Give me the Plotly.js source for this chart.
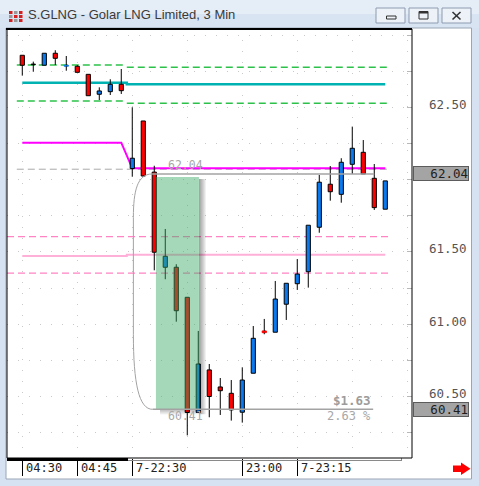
<!DOCTYPE html>
<html>
<head>
<meta charset="utf-8">
<script src="https://cdn.plot.ly/plotly-3.0.1.min.js"></script>
<style>
  html, body { margin: 0; padding: 0; background: #d6e2f1; }
  #chart { width: 479px; height: 486px; }
</style>
</head>
<body>
<div id="chart"></div>
<script>
// ---- 3-minute candles, S.GLNG (index 0 = 04:30 bar) ----
const opens  = [62.862, 62.797, 62.793, 62.876, 62.786, 62.786, 62.730, 62.592, 62.610, 62.661,
                62.078, 62.407, 62.053, 61.394, 61.394, 61.186, 60.388, 60.683, 60.565, 60.521,
                60.390, 60.660, 60.953, 60.944, 61.138, 61.280, 61.363, 61.671, 61.969, 61.899,
                62.107, 62.190, 62.010, 61.796];
const highs  = [62.862, 62.818, 62.876, 62.897, 62.857, 62.793, 62.730, 62.640, 62.696, 62.767,
                62.502, 62.407, 62.097, 61.659, 61.415, 61.186, 60.953, 60.724, 60.627, 60.613,
                60.701, 60.987, 61.036, 61.299, 61.283, 61.451, 61.685, 62.033, 62.095, 62.149,
                62.368, 62.275, 62.109, 61.992];
const lows   = [62.721, 62.748, 62.793, 62.795, 62.755, 62.744, 62.582, 62.552, 62.587, 62.594,
                62.021, 62.021, 61.373, 61.311, 61.017, 60.230, 60.388, 60.355, 60.371, 60.332,
                60.318, 60.660, 60.930, 60.944, 61.029, 61.237, 61.253, 61.633, 61.855, 61.841,
                62.040, 62.040, 61.791, 61.796];
const closes = [62.793, 62.797, 62.876, 62.841, 62.793, 62.744, 62.582, 62.615, 62.661, 62.617,
                62.149, 62.026, 61.498, 61.470, 61.093, 60.388, 60.724, 60.499, 60.539, 60.406,
                60.613, 60.902, 60.941, 61.174, 61.283, 61.347, 61.685, 61.983, 61.917, 62.121,
                62.218, 62.040, 61.807, 61.992];

// time axis labels (bar index -> label)
const timeTickIdx  = [0, 5, 10, 20, 25];
const timeTickText = ['04:30', '04:45', '7-22:30', '23:00', '7-23:15'];

// price axis ticks
const priceTickVals = [60.25, 60.50, 60.75, 61.00, 61.25, 61.50, 61.75, 62.00, 62.25, 62.50, 62.75, 63.00];
const priceTickText = ['', '60.50', '', '61.00', '', '61.50', '', '62.00', '', '62.50', '', ''];

// indicator levels: [previous session, current session]
const sessionBreak = 9.5;
const greenUpper = [62.795, 62.779];
const greenLower = [62.546, 62.530];
const tealLevel  = [62.672, 62.661];
const pinkMid    = [61.472, 61.481];
const pinkUpper  = 61.606;
const pinkLower  = 61.354;
const grayRef    = 62.073;
const magentaLine = [62.257, 62.257, 62.257, 62.257, 62.257, 62.257, 62.257, 62.257, 62.257, 62.257,
                     62.079, 62.079, 62.079, 62.079, 62.079, 62.079, 62.079, 62.079, 62.079, 62.079,
                     62.079, 62.079, 62.079, 62.079, 62.079, 62.079, 62.079, 62.079, 62.079, 62.079,
                     62.079, 62.079, 62.079, 62.079];

// price range measurement
const measHigh = 62.04;
const measLow  = 60.41;
const measStart = 11.8, measEnd = 32.0;
const zoneStart = 12.15, zoneEnd = 16.06;

// ---- geometry ----
const L = 7, T = 29, PW = 405, PH = 429;
const xRange = [-1.39, 35.43];
const yRange = [60.073, 63.044];
const pxX = (xRange[1] - xRange[0]) / PW;
const pxY = (yRange[1] - yRange[0]) / PH;
const X = px => (px - L) / PW;
const Y = py => (T + PH - py) / PH;

const UP = '#0a78ee', DOWN = '#ff0000';
const MONO = 'DejaVu Sans Mono';
const idx = opens.map((_, i) => i);

// candle bodies and wicks
const bodyColor = idx.map(i => closes[i] > opens[i] ? UP : (closes[i] < opens[i] ? DOWN : '#000000'));
const bodyLine = idx.map(i => Math.abs(closes[i] - opens[i]) < 0.017 ? bodyColor[i] : '#000000');
const bodyBase = idx.map(i => Math.min(opens[i], closes[i]));
const bodyHeight = idx.map(i => Math.max(Math.abs(closes[i] - opens[i]), 0.004));
const wickX = [], wickY = [];
idx.forEach(i => {
  const top = Math.max(opens[i], closes[i]), bot = Math.min(opens[i], closes[i]);
  if (highs[i] > top) { wickX.push(i, i, null); wickY.push(top, highs[i], null); }
  if (lows[i] < bot)  { wickX.push(i, i, null); wickY.push(lows[i], bot, null); }
});

const DASH = '7px,4px';
const traces = [
  { x: [-0.5, 33.5], y: [grayRef, grayRef], mode: 'lines',
    line: { color: '#a9a9a9', width: 1, dash: DASH } },
  { x: [-0.5, sessionBreak, null, sessionBreak, 33.5],
    y: [greenUpper[0], greenUpper[0], null, greenUpper[1], greenUpper[1]], mode: 'lines',
    line: { color: '#2cc24a', width: 1.5, dash: DASH } },
  { x: [-0.5, sessionBreak, null, sessionBreak, 33.5],
    y: [greenLower[0], greenLower[0], null, greenLower[1], greenLower[1]], mode: 'lines',
    line: { color: '#2cc24a', width: 1.5, dash: DASH } },
  { x: [xRange[0], 33.5], y: [pinkUpper, pinkUpper], mode: 'lines',
    line: { color: '#ff84c4', width: 1.3, dash: DASH } },
  { x: [xRange[0], 33.5], y: [pinkLower, pinkLower], mode: 'lines',
    line: { color: '#ff84c4', width: 1.3, dash: DASH } },
  { x: [0, sessionBreak, sessionBreak, 33], y: [pinkMid[0], pinkMid[0], pinkMid[1], pinkMid[1]],
    mode: 'lines', line: { color: '#ffb0d8', width: 2 } },
  { x: [0, sessionBreak, sessionBreak, 33], y: [tealLevel[0], tealLevel[0], tealLevel[1], tealLevel[1]],
    mode: 'lines', line: { color: '#00b2b2', width: 2.5 } },
  { x: idx, y: magentaLine, mode: 'lines', line: { color: '#ff00ff', width: 2 } },
  // candles live on an overlaid subplot so they sit above the indicator lines
  { type: 'bar', x: idx, y: bodyHeight, base: bodyBase, width: 0.38, xaxis: 'x2', yaxis: 'y2',
    marker: { color: bodyColor, line: { color: bodyLine, width: 1 } } },
  { x: wickX, y: wickY, mode: 'lines', xaxis: 'x2', yaxis: 'y2',
    line: { color: '#000000', width: 1 } }
];

// ---- shapes ----
function prect(x0, y0, x1, y1, fill, line, lw, layer) {
  return { type: 'rect', xref: 'paper', yref: 'paper', x0: X(x0), x1: X(x1), y0: Y(y1), y1: Y(y0),
           fillcolor: fill, line: { color: line || 'rgba(0,0,0,0)', width: lw || 0 }, layer: layer || 'below' };
}
function pline(x0, y0, x1, y1, color, w, layer) {
  return { type: 'line', xref: 'paper', yref: 'paper', x0: X(x0), x1: X(x1), y0: Y(y0), y1: Y(y1),
           line: { color: color, width: w }, layer: layer || 'below' };
}
function ppath(pts, fill, layer) {
  const d = pts.map((p, k) => (k ? 'L' : 'M') + X(p[0]) + ',' + Y(p[1])).join(' ') + ' Z';
  return { type: 'path', xref: 'paper', yref: 'paper', path: d, fillcolor: fill,
           line: { width: 0, color: fill }, layer: layer || 'below' };
}

const shapes = [];
// window frame, title bar and chart panel
shapes.push(prect(0, 0, 479, 14, '#e5edf7'));
shapes.push(prect(0, 14, 479, 28, '#d9e4f2'));
shapes.push(prect(6, 28, 471.5, 479, '#ffffff', '#9aa6b6', 1));
// app icon
[[9, 11, '#d42020'], [14, 11, '#9a9a9a'], [19, 11, '#d42020'],
 [9, 15, '#9a9a9a'], [14, 15, '#d42020'], [19, 15, '#d42020'],
 [9, 19, '#d42020'], [14, 19, '#9a9a9a'], [19, 19, '#d42020']].forEach(s =>
  shapes.push(prect(s[0], s[1], s[0] + 3.5, s[1] + 3, s[2])));
// caption buttons
[[376, 405], [409, 438], [442, 471]].forEach(b =>
  shapes.push(prect(b[0], 8, b[1], 23, '#edf2f9', '#8d9bb0', 1)));
shapes.push(prect(386.5, 16, 396, 19, 'rgba(0,0,0,0)', '#333333', 1));
shapes.push(prect(419, 11.5, 428, 19, 'rgba(0,0,0,0)', '#333333', 1));
shapes.push(pline(419, 12.5, 428, 12.5, '#333333', 2));
shapes.push(pline(452.5, 12, 460.5, 19.5, '#333333', 1.6));
shapes.push(pline(452.5, 19.5, 460.5, 12, '#333333', 1.6));
// scroll indicator under the plot
shapes.push(prect(7, 458, 128, 461, '#000000', null, 0, 'above'));
shapes.push(pline(128, 460.5, 401.5, 460.5, '#8a8a8a', 1, 'above'));
shapes.push(pline(401.5, 458, 401.5, 461, '#8a8a8a', 1, 'above'));
// red scroll arrow
shapes.push(ppath([[453, 465.5], [461, 465.5], [461, 462.5], [470.5, 468.8], [461, 475],
                   [461, 472], [453, 472]], '#ff0000', 'above'));
// plot border
shapes.push({ type: 'rect', xref: 'paper', yref: 'paper', x0: 0, x1: 1, y0: 0, y1: 1,
              line: { color: '#000000', width: 1 }, layer: 'above' });
shapes.push(pline(6, 29, 412, 29, '#000000', 2, 'above'));

// measurement zone: soft shadow, translucent green box, bracket and range lines
for (let k = 1; k <= 7; k++) {
  shapes.push({ type: 'rect', xref: 'x', yref: 'y', layer: 'above',
                x0: zoneEnd, x1: zoneEnd + (8 - k) * pxX,
                y0: measLow - 5 * pxY, y1: measHigh - 5 * pxY,
                fillcolor: 'rgba(0,0,0,0.06)', line: { width: 0 } });
  shapes.push({ type: 'rect', xref: 'x', yref: 'y', layer: 'above',
                x0: zoneStart + 4 * pxX, x1: zoneEnd,
                y0: measLow - (6 - k * 0.7) * pxY, y1: measLow,
                fillcolor: 'rgba(0,0,0,0.035)', line: { width: 0 } });
}
shapes.push({ type: 'rect', xref: 'x', yref: 'y', layer: 'above',
              x0: zoneStart, x1: zoneEnd, y0: measLow, y1: measHigh - 3 * pxY,
              fillcolor: 'rgba(58,170,100,0.46)', line: { width: 0 } });
const bx = 10.1;
shapes.push({ type: 'path', xref: 'x', yref: 'y', layer: 'above',
              path: `M ${measStart},${measHigh} C ${bx + 0.35},${measHigh} ${bx},${measHigh - 0.12} ${bx},${measHigh - 0.30}` +
                    ` L ${bx},${measLow + 0.52} C ${bx},${measLow + 0.18} ${bx + 0.5},${measLow} ${measStart + 0.05},${measLow}`,
              line: { color: '#a3a3a3', width: 1 } });
shapes.push({ type: 'line', xref: 'x', yref: 'y', layer: 'above', x0: measStart, x1: measEnd,
              y0: measHigh, y1: measHigh, line: { color: '#a3a3a3', width: 1.5 } });
shapes.push({ type: 'line', xref: 'x', yref: 'y', layer: 'above', x0: measStart + 0.05, x1: measEnd - 0.1,
              y0: measLow, y1: measLow, line: { color: '#a3a3a3', width: 1.5 } });

// ---- annotations ----
const annotations = [];
annotations.push({ xref: 'paper', yref: 'paper', x: X(26), y: Y(15), xanchor: 'left', yanchor: 'middle',
                   text: 'S.GLNG - Golar LNG Limited, 3 Min', showarrow: false,
                   font: { family: 'Liberation Sans', size: 13, color: '#3a3a3a' } });
timeTickIdx.forEach((v, k) => annotations.push({
  xref: 'x', yref: 'paper', x: v, y: Y(468.5), xanchor: 'left', yanchor: 'middle', xshift: 2,
  text: timeTickText[k], showarrow: false, font: { family: MONO, size: 12, color: '#222222' } }));

const diff = measHigh - measLow;
const pct = diff / measHigh * 100;
const measFont = { family: MONO, size: 11.5, color: '#a8a8a8' };
annotations.push({ xref: 'x', yref: 'y', x: 13.1, y: measHigh, xanchor: 'left', yanchor: 'middle', yshift: 9,
                   text: measHigh.toFixed(2), showarrow: false, font: measFont });
annotations.push({ xref: 'x', yref: 'y', x: 13.1, y: measLow, xanchor: 'left', yanchor: 'middle', yshift: -7,
                   text: measLow.toFixed(2), showarrow: false, font: measFont });
annotations.push({ xref: 'x', yref: 'y', x: 31.9, y: measLow, xanchor: 'right', yanchor: 'middle', yshift: 8.5,
                   text: '<b>$' + diff.toFixed(2) + '</b>', showarrow: false,
                   font: { family: MONO, size: 12.5, color: '#9c9c9c' } });
annotations.push({ xref: 'x', yref: 'y', x: 31.9, y: measLow, xanchor: 'right', yanchor: 'middle', yshift: -7,
                   text: pct.toFixed(2) + ' %', showarrow: false, font: { family: MONO, size: 12, color: '#a8a8a8' } });
[measHigh, measLow].forEach(v => annotations.push({
  xref: 'paper', yref: 'y', x: 1, y: v, xanchor: 'left', yanchor: 'middle', xshift: 0.5,
  text: v.toFixed(2), showarrow: false, align: 'right', width: 54, height: 13,
  bgcolor: '#a4a4a4', bordercolor: '#5c5c5c', borderwidth: 1, borderpad: 0,
  font: { family: MONO, size: 12.5, color: '#1e1e1e' } }));

const gridStyle = { gridcolor: '#c9c9c9', griddash: '1px,10px', gridwidth: 1 };
const layout = {
  width: 479, height: 486,
  margin: { l: L, r: 479 - L - PW, t: T, b: 486 - T - PH, pad: 0 },
  paper_bgcolor: '#d6e2f1', plot_bgcolor: '#ffffff',
  showlegend: false, bargap: 0,
  xaxis: Object.assign({ range: xRange, tickmode: 'array', tickvals: timeTickIdx, showticklabels: false,
           ticks: 'outside', ticklen: 17, tickcolor: '#000000', tickwidth: 1, showgrid: true,
           zeroline: false, showline: false, fixedrange: true,
           minor: Object.assign({ tick0: 0, dtick: 5, showgrid: true, ticks: '' }, gridStyle) }, gridStyle),
  yaxis: Object.assign({ range: yRange, side: 'right', tickmode: 'array', tickvals: priceTickVals,
           ticktext: priceTickText, ticks: 'inside', ticklen: 5, tickcolor: '#b8b8b8',
           ticklabelstandoff: 16, ticklabelshift: -3, showgrid: true, zeroline: false, showline: false,
           fixedrange: true, tickfont: { family: MONO, size: 12.5, color: '#555555' } }, gridStyle),
  xaxis2: { range: xRange, overlaying: 'x', visible: false, fixedrange: true },
  yaxis2: { range: yRange, overlaying: 'y', visible: false, side: 'right', fixedrange: true },
  shapes: shapes,
  annotations: annotations
};

Plotly.newPlot('chart', traces, layout, { staticPlot: true, displayModeBar: false });
</script>
</body>
</html>
